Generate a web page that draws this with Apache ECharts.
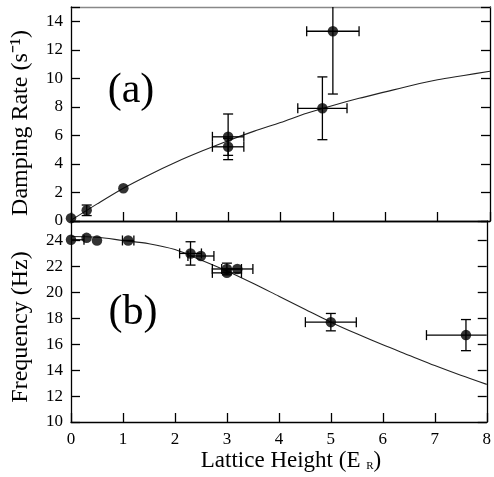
<!DOCTYPE html>
<html><head><meta charset="utf-8">
<script src="https://cdn.jsdelivr.net/npm/echarts@6/dist/echarts.min.js"></script>
<style>html,body{margin:0;padding:0;background:#fff}#c{width:494px;height:477px}</style>
</head><body><div id="c"></div>
<script>
// ---- tick values ----
const xTicks = [0, 1, 2, 3, 4, 5, 6, 7, 8];
const yTicksA = [0, 2, 4, 6, 8, 10, 12, 14];
const yTicksB = [10, 12, 14, 16, 18, 20, 22, 24];

// ---- panel (a): damping rate ----
const dampX    = [0, 0.3, 1.0, 3.0, 3.0, 4.8, 5.0];
const dampY    = [0.2, 0.75, 2.3, 5.9, 5.2, 7.9, 13.3];
const dampXErr = [0, 0, 0, 0.3, 0.3, 0.47, 0.5];
const dampYErr = [0, 0.37, 0, 1.6, 0.6, 2.2, 4.4];

// ---- panel (b): frequency ----
const freqX    = [0, 0.3, 0.5, 1.1, 2.3, 2.5, 3.0, 3.0, 3.2, 5.0, 7.6];
const freqY    = [24.05, 24.2, 24.0, 24.0, 23.0, 22.8, 21.8, 21.5, 21.8, 17.7, 16.7];
const freqXErr = [0.25, 0, 0, 0.11, 0.21, 0.25, 0.28, 0.28, 0.3, 0.49, 0.76];
const freqYErr = [0, 0, 0, 0, 0.9, 0, 0.45, 0, 0, 0.67, 1.2];

// ---- theory curves ----
const curveX    = [0, 0.5, 1, 1.5, 2, 2.5, 3, 3.5, 4, 4.5, 5, 5.5, 6, 6.5, 7, 7.5, 8];
const dampCurve = [0.05, 1.2, 2.3, 3.25, 4.12, 4.9, 5.63, 6.3, 6.9, 7.55, 8.1, 8.6, 9.05, 9.5, 9.9, 10.2, 10.5];
const freqCurve = [24.3, 24.25, 24.0, 23.75, 23.3, 22.5, 21.65, 20.7, 19.7, 18.7, 17.7, 16.8, 15.95, 15.15, 14.35, 13.6, 12.9];

const FONT = '"Liberation Serif", "Times New Roman", serif';
const zip2 = (a, b) => a.map((v, i) => [v, b[i]]);
const zip4 = (a, b, c, d) => a.map((v, i) => [v, b[i], c[i], d[i]]);

function errRender(params, api) {
  const x = api.value(0), y = api.value(1), ex = api.value(2), ey = api.value(3);
  const cs = params.coordSys;
  const x0 = cs.x, x1 = cs.x + cs.width, y0 = cs.y, y1 = cs.y + cs.height;
  const cy = v => Math.max(y0, Math.min(y1, v));
  const cx = v => Math.max(x0, Math.min(x1, v));
  const c = api.coord([x, y]);
  const cap = 5;
  const st = { stroke: '#000', lineWidth: 1.3 };
  const ch = [];
  const L = (a, b, cc, d) => ch.push({ type: 'line', shape: { x1: a, y1: b, x2: cc, y2: d }, style: st });
  if (ey > 0) {
    const t = api.coord([x, y + ey])[1], b = api.coord([x, y - ey])[1];
    L(c[0], cy(t), c[0], cy(b));
    if (t >= y0) L(c[0] - cap, t, c[0] + cap, t);
    if (b <= y1) L(c[0] - cap, b, c[0] + cap, b);
  }
  if (ex > 0) {
    const l = api.coord([x - ex, y])[0], r = api.coord([x + ex, y])[0];
    L(cx(l), c[1], cx(r), c[1]);
    if (l >= x0) L(l, c[1] - cap, l, c[1] + cap);
    if (r <= x1) L(r, c[1] - cap, r, c[1] + cap);
  }
  return { type: 'group', children: ch };
}

const axLine = { show: true, onZero: false, lineStyle: { color: '#000', width: 1.3 } };
const tickIn = { show: true, inside: true, length: 9, lineStyle: { color: '#000', width: 1.3 } };
const lbl = { color: '#000', fontFamily: FONT, fontSize: 17 };
const onlyTicks = list => (v => (list.indexOf(v) >= 0 ? String(v) : ''));
const noSplit = { show: false };

const chart = echarts.init(document.getElementById('c'), null, { renderer: 'canvas' });
chart.setOption({
  animation: false,
  backgroundColor: '#fff',
  grid: [
    { left: 71, top: 7, width: 419, height: 214 },
    { left: 71, top: 221, width: 419, height: 201 }
  ],
  xAxis: [
    { gridIndex: 0, type: 'value', min: 0, max: 8, interval: 1, axisLine: axLine,
      axisTick: tickIn, axisLabel: { show: false }, splitLine: noSplit },
    { gridIndex: 0, type: 'value', position: 'top', min: 0, max: 8, interval: 1,
      axisLine: { show: true, onZero: false, lineStyle: { color: '#888', width: 1.3 } },
      axisTick: { show: false }, axisLabel: { show: false }, splitLine: noSplit },
    { gridIndex: 1, type: 'value', min: 0, max: 8, interval: 1, axisLine: axLine,
      axisTick: tickIn,
      axisLabel: Object.assign({ margin: 9, formatter: onlyTicks(xTicks) }, lbl), splitLine: noSplit },
    { gridIndex: 1, type: 'value', position: 'top', min: 0, max: 8, interval: 1, axisLine: axLine,
      axisTick: { show: false }, axisLabel: { show: false }, splitLine: noSplit }
  ],
  yAxis: [
    { gridIndex: 0, type: 'value', min: 0, max: 15, interval: 2, axisLine: axLine,
      axisTick: tickIn,
      axisLabel: Object.assign({ margin: 8, formatter: onlyTicks(yTicksA) }, lbl), splitLine: noSplit },
    { gridIndex: 0, type: 'value', position: 'right', min: 0, max: 15, interval: 2, axisLine: axLine,
      axisTick: tickIn, axisLabel: { show: false }, splitLine: noSplit },
    { gridIndex: 1, type: 'value', min: 10, max: 25.5, interval: 2, axisLine: axLine,
      axisTick: tickIn,
      axisLabel: Object.assign({ margin: 8, formatter: onlyTicks(yTicksB) }, lbl), splitLine: noSplit },
    { gridIndex: 1, type: 'value', position: 'right', min: 10, max: 25.5, interval: 2, axisLine: axLine,
      axisTick: tickIn, axisLabel: { show: false }, splitLine: noSplit }
  ],
  series: [
    { type: 'line', xAxisIndex: 0, yAxisIndex: 0, data: zip2(curveX, dampCurve), smooth: 0.3, showSymbol: false,
      lineStyle: { color: '#222', width: 1.1 }, z: 1 },
    { type: 'line', xAxisIndex: 2, yAxisIndex: 2, data: zip2(curveX, freqCurve), smooth: 0.3, showSymbol: false,
      lineStyle: { color: '#222', width: 1.1 }, z: 1 },
    { type: 'custom', xAxisIndex: 0, yAxisIndex: 0, renderItem: errRender, data: zip4(dampX, dampY, dampXErr, dampYErr),
      encode: { x: 0, y: 1 }, z: 2 },
    { type: 'custom', xAxisIndex: 2, yAxisIndex: 2, renderItem: errRender, data: zip4(freqX, freqY, freqXErr, freqYErr),
      encode: { x: 0, y: 1 }, z: 2 },
    { type: 'scatter', xAxisIndex: 0, yAxisIndex: 0, data: zip2(dampX, dampY), symbolSize: 10.5,
      itemStyle: { color: '#000' }, z: 3, clip: false },
    { type: 'scatter', xAxisIndex: 2, yAxisIndex: 2, data: zip2(freqX, freqY), symbolSize: 10.5,
      itemStyle: { color: '#000' }, z: 3, clip: false }
  ],
  graphic: [
    { type: 'text', x: 21, y: 123, rotation: Math.PI / 2,
      style: { text: 'Damping Rate (s\u207B\u00B9)', font: '24px ' + FONT, align: 'center', verticalAlign: 'middle', fill: '#000' } },
    { type: 'text', x: 21, y: 327, rotation: Math.PI / 2,
      style: { text: 'Frequency (Hz)', font: '24px ' + FONT, align: 'center', verticalAlign: 'middle', fill: '#000' } },
    { type: 'text', x: 291, y: 461,
      style: { text: '{a|Lattice Height (E }{s|R}{a|)}', align: 'center', verticalAlign: 'middle',
        rich: { a: { fontFamily: FONT, fontSize: 23, fill: '#000', lineHeight: 26 },
                s: { fontFamily: FONT, fontSize: 11, fill: '#000', lineHeight: 26, padding: [10, 0, 0, 0] } } } },
    { type: 'text', x: 131, y: 91,
      style: { text: '(a)', font: '42px ' + FONT, align: 'center', verticalAlign: 'middle', fill: '#000' } },
    { type: 'text', x: 133, y: 313,
      style: { text: '(b)', font: '42px ' + FONT, align: 'center', verticalAlign: 'middle', fill: '#000' } }
  ]
});
</script>
</body></html>
